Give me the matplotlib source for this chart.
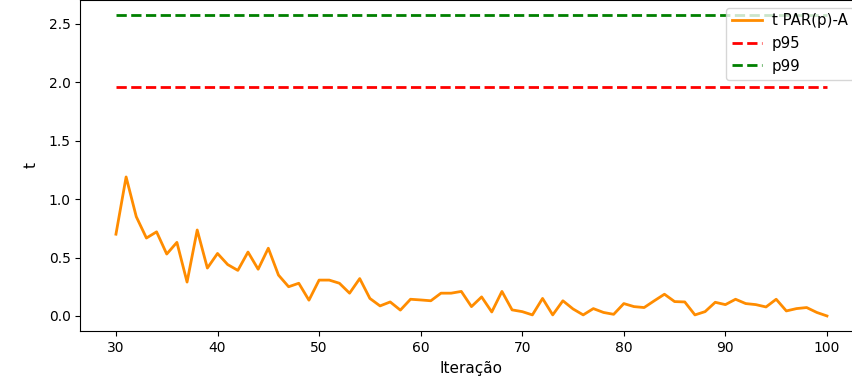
import matplotlib
matplotlib.use("Agg")
import matplotlib.pyplot as plt
import numpy as np

iteracoes = np.arange(30, 101)
t_par = [0.70, 1.19, 0.85, 0.667, 0.72, 0.53, 0.63, 0.29, 0.736, 0.41,
         0.535, 0.44, 0.39, 0.547, 0.40, 0.58, 0.35, 0.25, 0.28, 0.135,
         0.307, 0.307, 0.28, 0.195, 0.32, 0.15, 0.086, 0.12, 0.05, 0.143,
         0.137, 0.13, 0.195, 0.195, 0.21, 0.08, 0.163, 0.034, 0.21, 0.052,
         0.037, 0.009, 0.15, 0.009, 0.13, 0.06, 0.009, 0.063, 0.03, 0.014,
         0.106, 0.08, 0.072, 0.13, 0.186, 0.123, 0.12, 0.009, 0.037, 0.117,
         0.097, 0.143, 0.106, 0.097, 0.077, 0.143, 0.043, 0.063, 0.072, 0.03,
         0.0]
p95 = 1.96
p99 = 2.576

fig = plt.figure(figsize=(8.53, 3.81), dpi=100)
# the reference is cut off on the right, so the axes run past the edge
ax = fig.add_axes([80.4/853, 50/381, 781/853, 331/381])

ax.plot(iteracoes, t_par, color='darkorange', lw=2, label='t PAR(p)-A')
ax.plot(iteracoes, [p95]*len(iteracoes), color='red', lw=2, ls='--', label='p95')
ax.plot(iteracoes, [p99]*len(iteracoes), color='green', lw=2, ls='--', label='p99')
ax.set_xlim(26.5, 103.39)

ax.set_xlabel('Iteração', fontsize=11, labelpad=4.5)
ax.set_ylabel('t', fontsize=11, labelpad=7.5)
ax.legend(loc='upper right', fontsize=10.8, handlelength=2.0, handletextpad=0.65)

fig.savefig('out.png', dpi=100)
